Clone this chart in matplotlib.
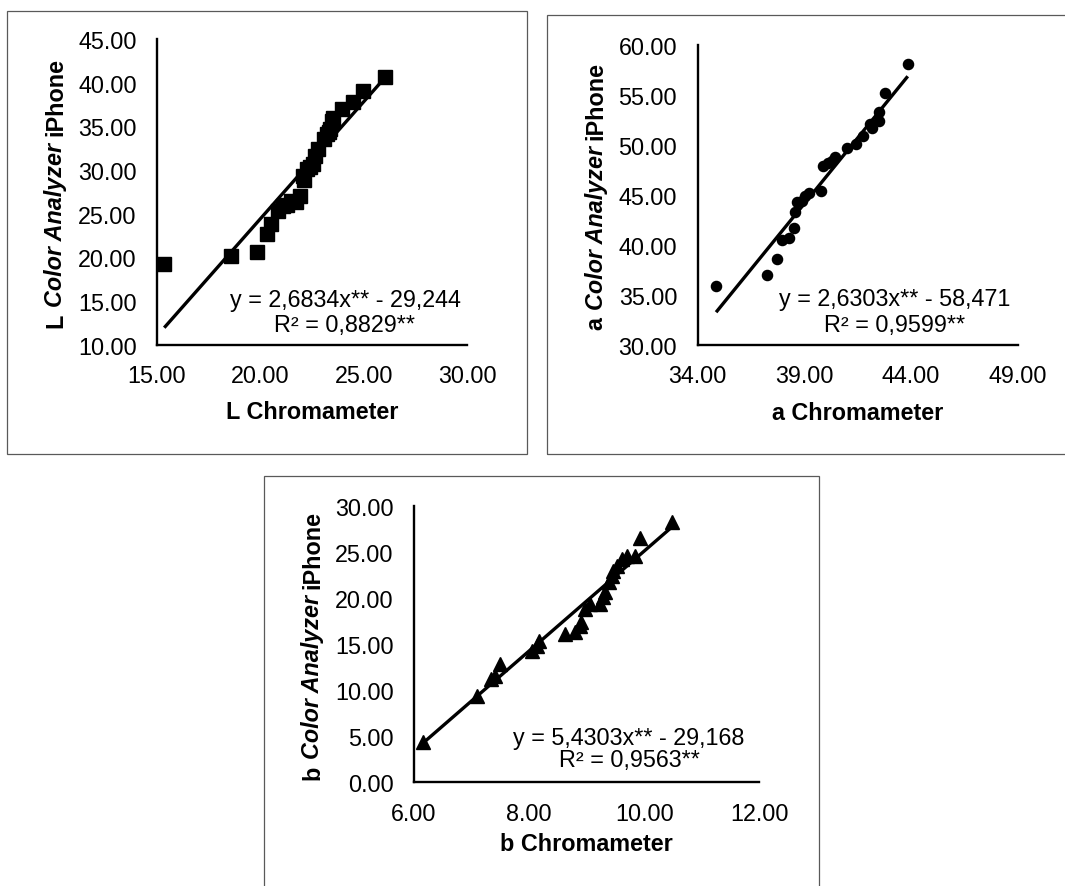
import matplotlib.pyplot as plt
from matplotlib.font_manager import FontProperties
from matplotlib.patches import Rectangle
from matplotlib.ticker import FormatStrFormatter

W, H = 1065, 887
FONT = 'Liberation Sans'
FS = 16.8

plt.rcParams['font.family'] = FONT
plt.rcParams['font.size'] = FS

# L panel
l_x = [15.35, 18.58, 19.82, 20.30, 20.50, 20.87, 21.10, 21.30, 21.50, 21.70,
       21.92, 22.08, 22.10, 22.24, 22.40, 22.56, 22.64, 22.80, 23.05, 23.20,
       23.30, 23.37, 23.45, 23.50, 23.94, 24.47, 24.98, 26.03]
l_y = [19.24, 20.13, 20.65, 22.70, 23.80, 25.35, 25.90, 26.00, 26.50, 26.30,
       27.07, 29.36, 28.80, 30.10, 30.40, 30.70, 31.65, 32.40, 33.56, 34.10,
       34.30, 34.70, 35.66, 36.00, 37.00, 37.77, 39.10, 40.63]
l_coef = (2.6834, -29.244)
l_eq = ['y = 2,6834x** - 29,244', 'R² = 0,8829**']

# a panel
a_x = [34.87, 37.27, 37.74, 37.94, 38.30, 38.52, 38.56, 38.67, 38.88, 39.05,
       39.23, 39.76, 39.89, 40.12, 40.30, 40.43, 40.98, 41.42, 41.76, 42.07,
       42.15, 42.50, 42.50, 42.77, 43.84]
a_y = [35.84, 36.97, 38.57, 40.50, 40.70, 41.64, 43.24, 44.24, 44.40, 44.90,
       45.17, 45.40, 47.90, 48.17, 48.40, 48.74, 49.64, 50.07, 50.90, 52.07,
       51.70, 52.40, 53.24, 55.14, 58.07]
a_coef = (2.6303, -58.471)
a_eq = ['y = 2,6303x** - 58,471', 'R² = 0,9599**']

# b panel
b_x = [6.15, 7.09, 7.33, 7.41, 7.49, 8.05, 8.13, 8.18, 8.62, 8.80, 8.88, 8.91,
       8.97, 9.06, 9.23, 9.29, 9.32, 9.38, 9.44, 9.46, 9.52, 9.61, 9.70, 9.84,
       9.92, 10.48]
b_y = [4.35, 9.41, 11.20, 11.60, 12.86, 14.30, 14.85, 15.40, 16.10, 16.30,
       17.00, 17.40, 18.84, 19.40, 19.40, 20.10, 20.65, 21.74, 22.45, 23.00,
       23.55, 24.27, 24.60, 24.60, 26.60, 28.26]
b_coef = (5.4303, -29.168)
b_eq = ['y = 5,4303x** - 29,168', 'R² = 0,9563**']

fig = plt.figure(figsize=(W / 100, H / 100), dpi=100)
renderer = fig.canvas.get_renderer()


def frame(left, top, right, bottom):
    fig.add_artist(Rectangle((left / W, 1 - bottom / H), (right - left) / W,
                             (bottom - top) / H, transform=fig.transFigure,
                             fill=False, ec='#595959', lw=0.9))


def text_w(s, style):
    fp = FontProperties(family=FONT, size=FS, weight='bold', style=style)
    return renderer.get_text_width_height_descent(s, fp, ismath=False)[0]


def ylabel(letter, x_base, top, bottom):
    parts = [(letter, 'normal'), ('Color Analyzer', 'italic'), ('iPhone', 'normal')]
    space = text_w('a a', 'normal') - text_w('aa', 'normal')
    widths = [text_w(s, st) for s, st in parts]
    total = sum(widths) + space * (len(parts) - 1)
    y = (top + bottom) / 2 + total / 2
    for (s, st), w in zip(parts, widths):
        fig.text(x_base / W, 1 - y / H, s, rotation=90, rotation_mode='anchor',
                 ha='left', va='baseline', fontweight='bold', fontstyle=st,
                 fontsize=FS)
        y -= w + space


def panel(box, xs, ys, marker, ms, coef, xlim, xticks, ylim, yticks,
          xlabel, letter, eq, eq_x, eq_base, xlab_off):
    left, top, right, bottom = box
    ax = fig.add_axes([left / W, 1 - bottom / H, (right - left) / W, (bottom - top) / H])
    ax.plot(xs, ys, ls='none', marker=marker, ms=ms, color='black',
            mec='black', clip_on=False, zorder=3)
    x0, x1 = min(xs), max(xs)
    ax.plot([x0, x1], [coef[0] * x0 + coef[1], coef[0] * x1 + coef[1]],
            color='black', lw=2.4, solid_capstyle='butt', zorder=2)
    ax.set_xlim(xlim)
    ax.set_ylim(ylim)
    ax.set_xticks(xticks)
    ax.set_yticks(yticks)
    ax.xaxis.set_major_formatter(FormatStrFormatter('%.2f'))
    ax.yaxis.set_major_formatter(FormatStrFormatter('%.2f'))
    for side in ('top', 'right'):
        ax.spines[side].set_visible(False)
    for side in ('left', 'bottom'):
        ax.spines[side].set_linewidth(1.7)
        ax.spines[side].set_color('black')
    ax.tick_params(axis='x', length=0, pad=13.9, labelsize=FS)
    ax.tick_params(axis='y', length=0, pad=14.6, labelsize=FS)
    ax.patch.set_visible(False)
    ax.annotate(xlabel, xy=(0.5, 0), xycoords='axes fraction',
                xytext=(0, -xlab_off * 0.72), textcoords='offset points',
                ha='center', va='top', fontweight='bold', fontsize=FS)
    ylabel(letter, left - 95, top, bottom)
    for line, base in zip(eq, eq_base):
        fig.text(eq_x / W, 1 - base / H, line, ha='center', va='baseline', fontsize=FS)
    return ax


frame(7.3, 11.7, 526.7, 455)
frame(547.3, 15.7, 1075, 455)
frame(264.3, 477.3, 819.3, 900)

panel((157, 40, 467.3, 345.7), l_x, l_y, 's', 10, l_coef,
      (15, 30), [15, 20, 25, 30], (10, 45), [10, 15, 20, 25, 30, 35, 40, 45],
      'L Chromameter', 'L', l_eq, 345, (306.5, 331.7), 55)

panel((697.5, 45.7, 1018, 345.7), a_x, a_y, 'o', 7.3, a_coef,
      (34, 49), [34, 39, 44, 49], (30, 60), [30, 35, 40, 45, 50, 55, 60],
      'a Chromameter', 'a', a_eq, 895, (306, 331.7), 56)

panel((414, 507.3, 759.3, 783.3), b_x, b_y, '^', 9.5, b_coef,
      (6, 12), [6, 8, 10, 12], (0, 30), [0, 5, 10, 15, 20, 25, 30],
      'b Chromameter', 'b', b_eq, 629, (745, 766.7), 50)

fig.savefig('out.png', dpi=100)
